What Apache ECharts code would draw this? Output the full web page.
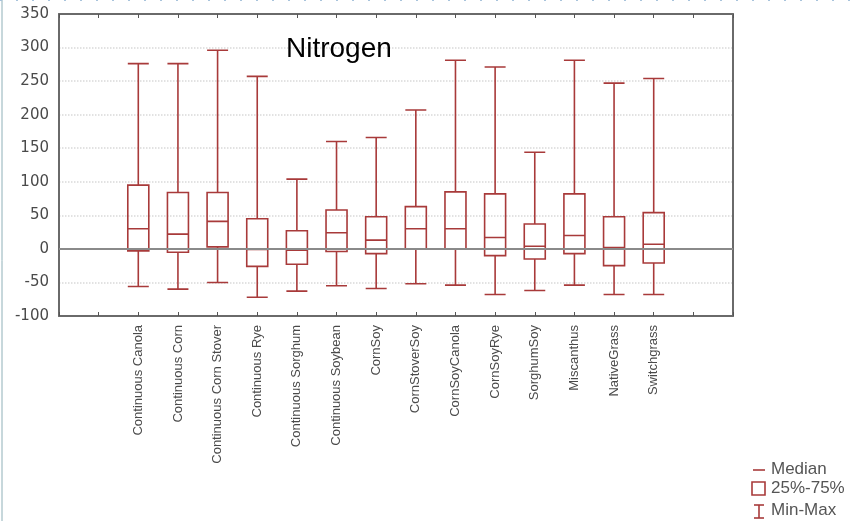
<!DOCTYPE html>
<html>
<head>
<meta charset="utf-8">
<script src="https://cdn.jsdelivr.net/npm/echarts@6/dist/echarts.min.js"></script>
<style>
  html, body { margin: 0; padding: 0; background: #fff; }
  #chart { width: 850px; height: 521px; }
</style>
</head>
<body>
<div id="chart"></div>
<script>
// rotations (x axis categories)
const rotations = [
    'Continuous Canola', 'Continuous Corn', 'Continuous Corn Stover', 'Continuous Rye',
    'Continuous Sorghum', 'Continuous Soybean', 'CornSoy', 'CornStoverSoy',
    'CornSoyCanola', 'CornSoyRye', 'SorghumSoy', 'Miscanthus', 'NativeGrass', 'Switchgrass'
];
const minVals    = [-56, -60, -50, -72, -63, -55, -59, -52, -54, -68, -62, -54, -68, -68];
const q1Vals     = [-3, -5, 3, -26, -23, -4, -7, 0, 0, -10, -15, -7, -25, -21];
const medianVals = [30, 22, 41, -1, -2, 24, 13, 30, 30, 17, 4, 20, 2, 7];
const q3Vals     = [95, 84, 84, 45, 27, 58, 48, 63, 85, 82, 37, 82, 48, 54];
const maxVals    = [276, 276, 296, 257, 104, 160, 166, 207, 281, 271, 144, 281, 247, 254];
const yTicks = [-100, -50, 0, 50, 100, 150, 200, 250, 300, 350];

const boxColor = '#a83a3a';

// two empty slots on each side so the boxes sit where they do in the picture
const cats = ['', ''].concat(rotations, ['', '']);
const empty = ['-', '-', '-', '-', '-'];
const boxData = [empty, empty].concat(
    rotations.map((r, i) => [minVals[i], q1Vals[i], medianVals[i], q3Vals[i], maxVals[i]]),
    [empty, empty]
);

const chart = echarts.init(document.getElementById('chart'));

const frameLine = { show: true, onZero: false, lineStyle: { color: '#6a6a6a', width: 2 } };
const innerTick = { inside: true, length: 4, lineStyle: { color: '#555' } };
const legendFont = '17px Liberation Sans, Arial';

const option = {
    animation: false,
    textStyle: { fontFamily: 'Liberation Sans, Arial, sans-serif' },
    title: {
        text: 'Nitrogen',
        left: 281,
        top: 30,
        textStyle: { fontSize: 28, fontWeight: 'normal', color: '#000', fontFamily: 'Liberation Sans, Arial' }
    },
    grid: {
        left: 59, top: 14, right: 117, bottom: 205,
        show: true, borderColor: '#6a6a6a', borderWidth: 0, backgroundColor: '#fff'
    },
    xAxis: [{
        type: 'category',
        data: cats,
        boundaryGap: false,
        axisLine: frameLine,
        axisTick: Object.assign({ interval: 0 }, innerTick),
        axisLabel: { rotate: 90, interval: 0, color: '#4a4a4a', fontSize: 13, margin: 9 },
        splitLine: { show: false }
    }, {
        type: 'category',
        data: cats,
        boundaryGap: false,
        position: 'top',
        axisLine: frameLine,
        axisTick: Object.assign({ interval: 0 }, innerTick),
        axisLabel: { show: false }
    }],
    yAxis: [{
        type: 'value',
        min: yTicks[0], max: yTicks[yTicks.length - 1], interval: 50,
        axisLine: frameLine,
        axisTick: innerTick,
        axisLabel: { color: '#4a4a4a', fontSize: 15, margin: 10, fontFamily: 'DejaVu Sans' },
        splitLine: { lineStyle: { color: '#d9d9d9', type: 'dotted', width: 1.5 } }
    }, {
        type: 'value',
        min: yTicks[0], max: yTicks[yTicks.length - 1], interval: 50,
        position: 'right',
        axisLine: frameLine,
        axisTick: innerTick,
        axisLabel: { show: false },
        splitLine: { show: false }
    }],
    series: [{
        type: 'boxplot',
        xAxisIndex: 0,
        yAxisIndex: 0,
        boxWidth: [21, 21],
        itemStyle: { color: 'transparent', borderColor: boxColor, borderWidth: 1.6 },
        data: boxData,
        markLine: {
            silent: true,
            symbol: 'none',
            label: { show: false },
            lineStyle: { color: '#8a8a8a', width: 2, type: 'solid' },
            data: [{ yAxis: 0 }]
        },
        z: 3
    }],
    graphic: [
        // page edges
        { type: 'line', shape: { x1: 2, y1: 0, x2: 2, y2: 521 }, style: { stroke: '#8fb0b8', lineWidth: 1 } },
        { type: 'line', shape: { x1: 0, y1: 0.5, x2: 850, y2: 0.5 }, style: { stroke: '#a9c4dc', lineWidth: 1, lineDash: [2, 14] } },
        // legend
        { type: 'line', shape: { x1: 753, y1: 470, x2: 765, y2: 470 }, style: { stroke: boxColor, lineWidth: 1.6 } },
        { type: 'text', left: 771, top: 461, style: { text: 'Median', fill: '#555', font: legendFont } },
        { type: 'rect', shape: { x: 752, y: 482, width: 13, height: 13 }, style: { fill: 'none', stroke: boxColor, lineWidth: 1.6 } },
        { type: 'text', left: 771, top: 480, style: { text: '25%-75%', fill: '#555', font: legendFont } },
        { type: 'line', shape: { x1: 759, y1: 505, x2: 759, y2: 518 }, style: { stroke: boxColor, lineWidth: 1.6 } },
        { type: 'line', shape: { x1: 754, y1: 505, x2: 764, y2: 505 }, style: { stroke: boxColor, lineWidth: 1.6 } },
        { type: 'line', shape: { x1: 754, y1: 518, x2: 764, y2: 518 }, style: { stroke: boxColor, lineWidth: 1.6 } },
        { type: 'text', left: 771, top: 502, style: { text: 'Min-Max', fill: '#555', font: legendFont } }
    ]
};

chart.setOption(option);
</script>
</body>
</html>
